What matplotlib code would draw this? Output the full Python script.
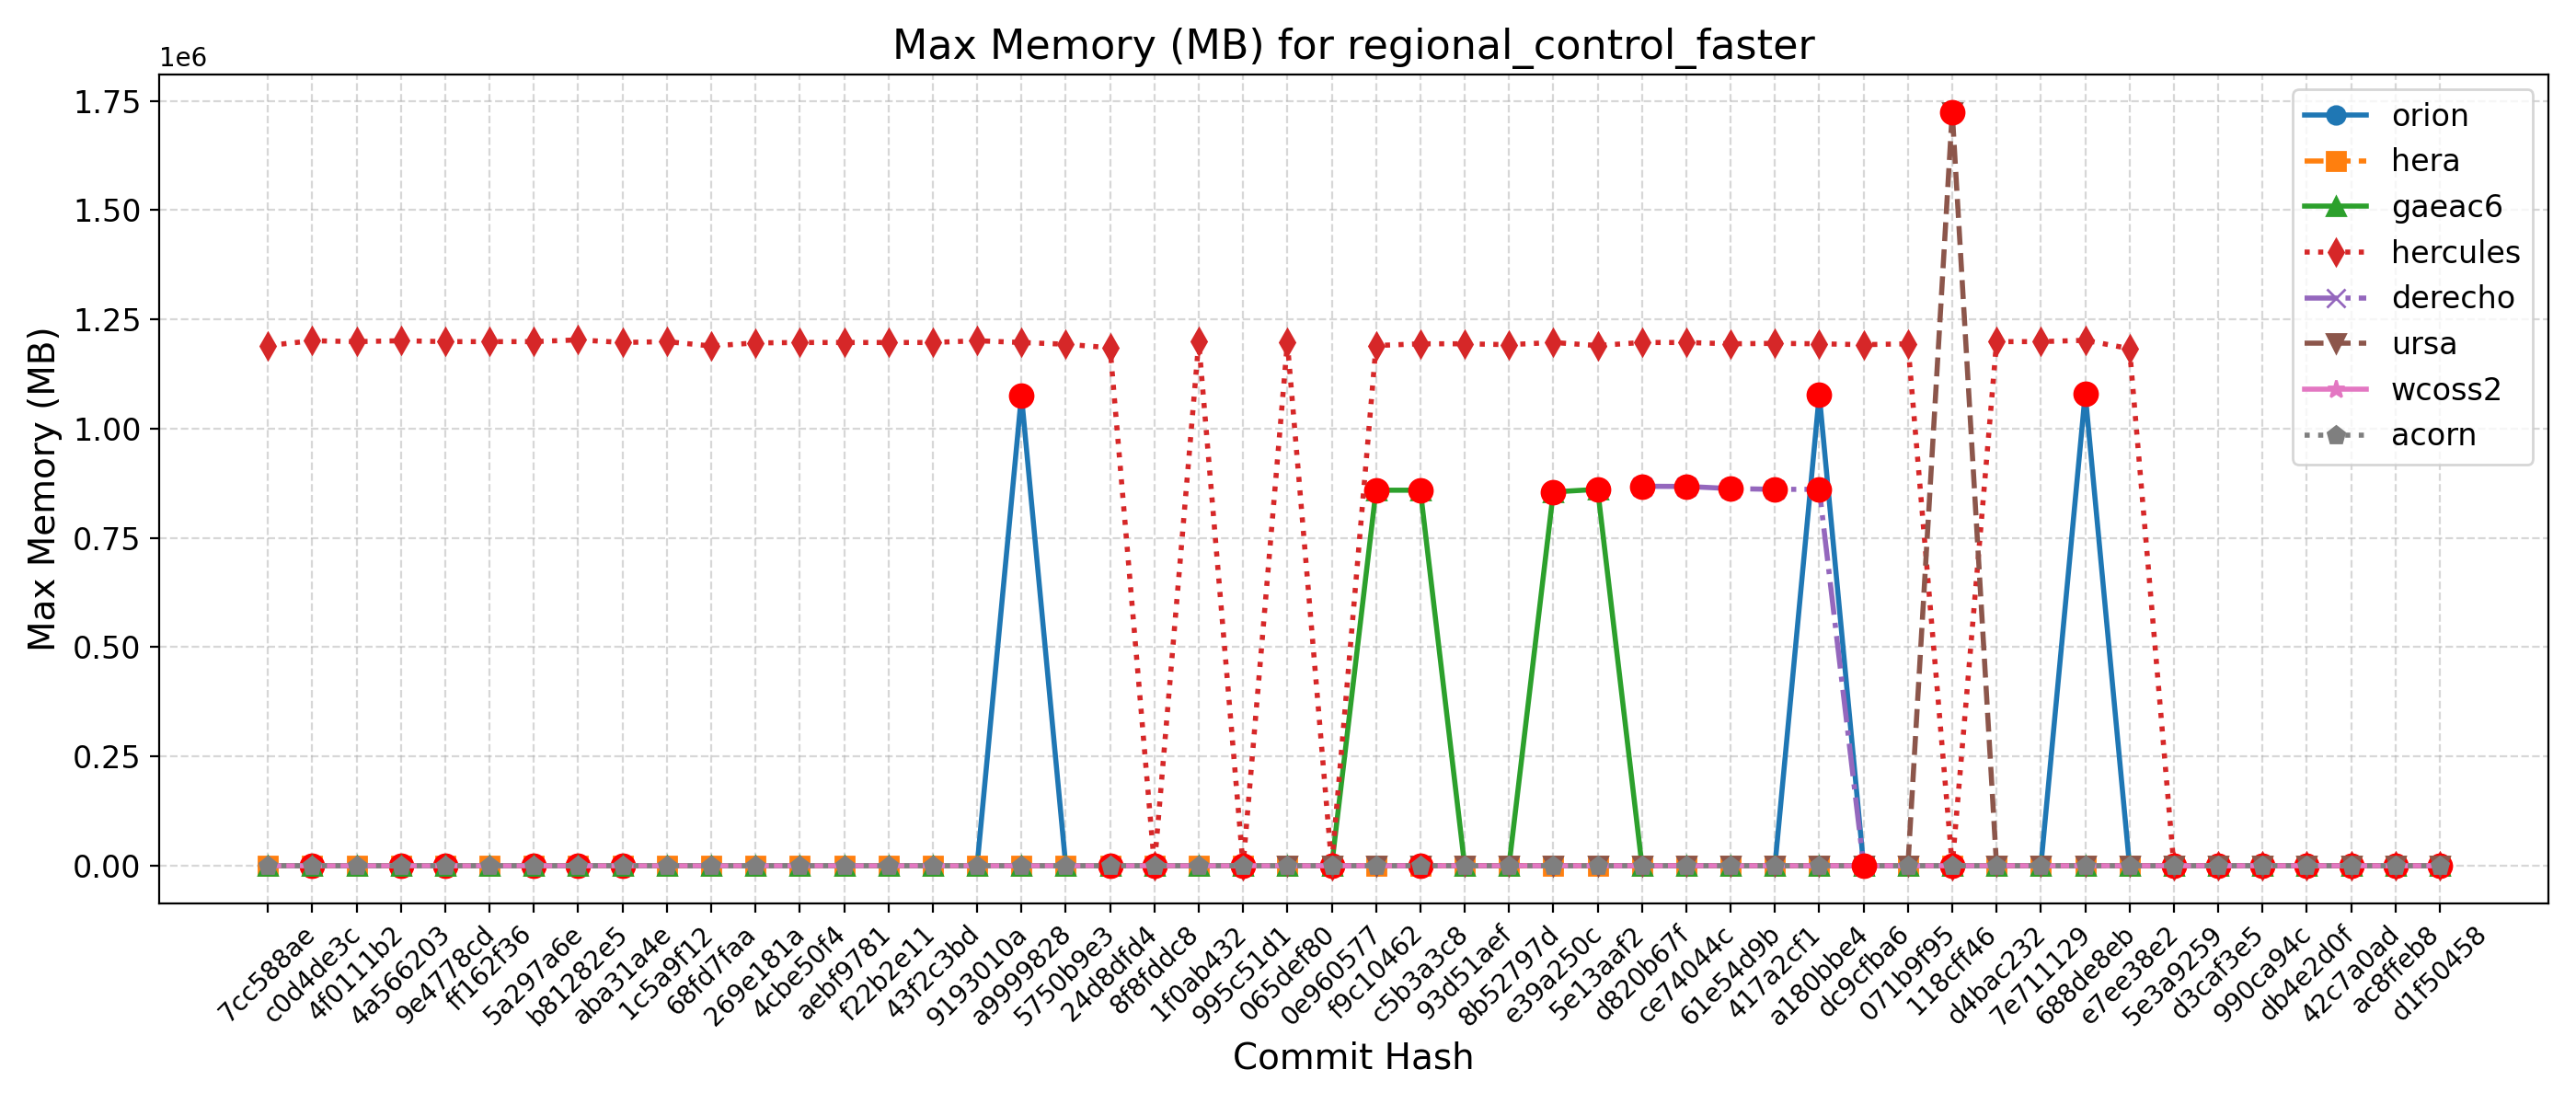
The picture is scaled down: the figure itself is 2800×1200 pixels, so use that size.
import numpy as np
import matplotlib
matplotlib.use('Agg')
import matplotlib.pyplot as plt

# commits along the x axis
commits = ['7cc588ae', 'c0d4de3c', '4f0111b2', '4a566203', '9e4778cd', 'ff162f36', '5a297a6e', 'b81282e5',
           'aba31a4e', '1c5a9f12', '68fd7faa', '269e181a', '4cbe50f4', 'aebf9781', 'f22b2e11', '43f2c3bd',
           '9193010a', 'a9999828', '5750b9e3', '24d8dfd4', '8f8fddc8', '1f0ab432', '995c51d1', '065def80',
           '0e960577', 'f9c10462', 'c5b3a3c8', '93d51aef', '8b52797d', 'e39a250c', '5e13aaf2', 'd820b67f',
           'ce74044c', '61e54d9b', '417a2cf1', 'a180bbe4', 'dc9cfba6', '071b9f95', '118cff46', 'd4bac232',
           '7e711129', '688de8eb', 'e7ee38e2', '5e3a9259', 'd3caf3e5', '990ca94c', 'db4e2d0f', '42c7a0ad',
           'ac8ffeb8', 'd1f50458']

nan = np.nan

# max memory per machine (MB)
orion = [0, 0, 0, 0, 0, 0, 0, 0, 0, 0,
         0, 0, 0, 0, 0, 0, 0, 1076000, 0, 0,
         0, 0, 0, 0, 0, 0, 0, 0, 0, 0,
         0, 0, 0, 0, 0, 1077500, 0, 0, 0, 0,
         0, 1079600, 0, 0, 0, 0, 0, 0, 0, 0]
hera = [0, 0, 0, 0, 0, 0, 0, 0, 0, 0,
        0, 0, 0, 0, 0, 0, 0, 0, 0, 0,
        0, 0, 0, 0, 0, 0, 0, 0, 0, 0,
        0, 0, 0, 0, 0, 0, 0, 0, 0, 0,
        0, 0, 0, 0, 0, 0, 0, 0, 0, 0]
gaeac6 = [0, 0, 0, 0, 0, 0, 0, 0, 0, 0,
          0, 0, 0, 0, 0, 0, 0, 0, 0, 0,
          0, 0, 0, 0, 0, 859000, 859000, 0, 0, 855000,
          861000, 0, 0, 0, 0, 0, 0, 0, 0, 0,
          0, 0, 0, 0, 0, 0, 0, 0, 0, 0]
hercules = [1190000, 1201000, 1199000, 1201000, 1199000, 1199000, 1199000, 1203000, 1197000, 1199000,
            1189000, 1196000, 1197000, 1197000, 1197000, 1197000, 1201000, 1197000, 1193000, 1185000,
            0, 1199000, 0, 1197000, 0, 1190000, 1194000, 1194000, 1192000, 1197000,
            1190000, 1197000, 1197000, 1194000, 1195000, 1194000, 1192000, 1194000, 0, 1199000,
            1199000, 1202000, 1183000, 0, 0, 0, 0, 0, 0, 0]
derecho = [nan, nan, nan, nan, nan, nan, nan, nan, nan, nan,
           nan, nan, nan, nan, nan, nan, nan, nan, nan, nan,
           nan, nan, nan, nan, nan, nan, nan, nan, nan, nan,
           nan, 868000, 867600, 862700, 861000, 861000, 0, nan, nan, nan,
           nan, nan, nan, nan, nan, nan, nan, nan, nan, nan]
ursa = [nan, nan, nan, nan, nan, nan, nan, nan, nan, nan,
        nan, nan, nan, nan, nan, nan, nan, nan, nan, nan,
        nan, nan, nan, 0, 0, 0, 0, 0, 0, 0,
        0, 0, 0, 0, 0, 0, 0, 0, 1724600, 0,
        0, 0, 0, 0, 0, 0, 0, 0, 0, 0]
wcoss2 = [0, 0, 0, 0, 0, 0, 0, 0, 0, 0,
          0, 0, 0, 0, 0, 0, 0, 0, 0, 0,
          0, 0, 0, 0, 0, 0, 0, 0, 0, 0,
          0, 0, 0, 0, 0, 0, 0, 0, 0, 0,
          0, 0, 0, 0, 0, 0, 0, 0, 0, 0]
acorn = [0, 0, 0, 0, 0, 0, 0, 0, 0, 0,
         0, 0, 0, 0, 0, 0, 0, 0, 0, 0,
         0, 0, 0, 0, 0, 0, 0, 0, 0, 0,
         0, 0, 0, 0, 0, 0, 0, 0, 0, 0,
         0, 0, 0, 0, 0, 0, 0, 0, 0, 0]

# commits flagged with a red dot, per machine
orion_flag = [17, 35, 41]
hera_flag = [1, 3, 4, 6, 7, 8]
gaeac6_flag = [25, 26, 29, 30]
hercules_flag = [20, 22, 24, 38, 43, 44, 45, 46, 47, 48, 49]
derecho_flag = [31, 32, 33, 34, 35]
ursa_flag = [38]
wcoss2_flag = [19, 26]
acorn_flag = [36]

machines = ['orion', 'hera', 'gaeac6', 'hercules', 'derecho', 'ursa', 'wcoss2', 'acorn']
data = [orion, hera, gaeac6, hercules, derecho, ursa, wcoss2, acorn]
flags = [orion_flag, hera_flag, gaeac6_flag, hercules_flag, derecho_flag, ursa_flag, wcoss2_flag, acorn_flag]
markers = ['o', 's', '^', 'd', 'x', 'v', '*', 'p']
linestyles = ['-', '--', '-', ':', '-.', '--', '-', ':']

fig, ax = plt.subplots(figsize=(14, 6), dpi=200)
x = np.arange(len(commits))

for k, name in enumerate(machines):
    vals = data[k]
    ax.plot(x, vals, marker=markers[k], linestyle=linestyles[k], linewidth=2,
            markersize=7, color=f'C{k}', label=name)
    fl = flags[k]
    if fl:
        ax.plot(fl, [vals[i] for i in fl], 'o', color='red', markersize=9)

ax.set_xticks(x)
ax.set_xticklabels(commits, rotation=45, fontsize=10)
ax.tick_params(axis='y', labelsize=12)
ax.set_title('Max Memory (MB) for regional_control_faster', fontsize=16)
ax.set_xlabel('Commit Hash', fontsize=14)
ax.set_ylabel('Max Memory (MB)', fontsize=14)
ax.grid(True, linestyle='--', alpha=0.5)
ax.legend(loc='upper right', fontsize=12)

fig.tight_layout()
fig.savefig('out.png', dpi=200)
